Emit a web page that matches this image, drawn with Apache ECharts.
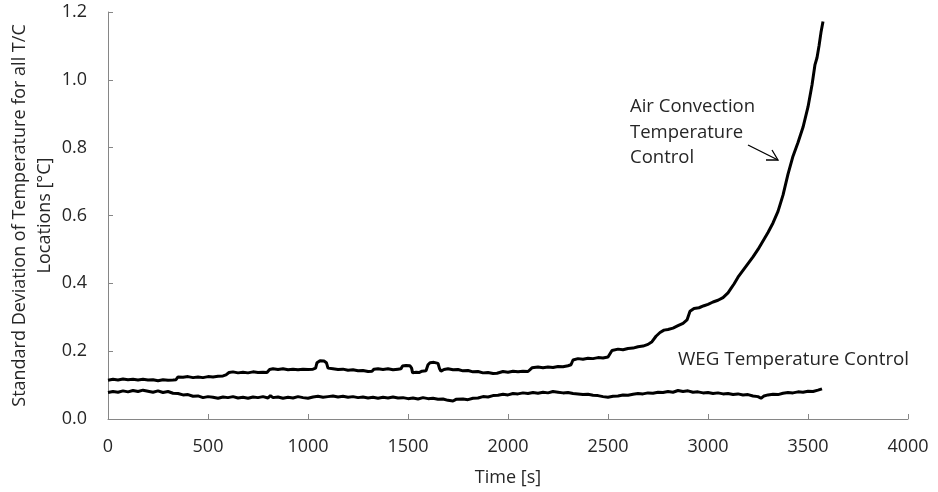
<!DOCTYPE html>
<html>
<head>
<meta charset="utf-8">
<script src="https://cdn.jsdelivr.net/npm/echarts@6/dist/echarts.min.js"></script>
<style>
  html, body { margin: 0; padding: 0; background: #fff; }
  #chart { width: 938px; height: 492px; }
</style>
</head>
<body>
<div id="chart"></div>
<script>
// Standard deviation of thermocouple temperatures over time, two control schemes
const xTicks = [0, 500, 1000, 1500, 2000, 2500, 3000, 3500, 4000];
const yTicks = [0.0, 0.2, 0.4, 0.6, 0.8, 1.0, 1.2];

// Air convection temperature control
const airTime = [0, 25, 50, 75, 100, 125, 150, 175, 200, 225, 250, 275, 300, 325, 340, 350, 375, 400, 425, 450, 475, 500, 525, 550, 575, 590, 605, 625, 650, 675, 700, 725, 750, 775, 795, 808, 825, 850, 875, 900, 925, 950, 975, 1000, 1025, 1038, 1045, 1060, 1080, 1092, 1100, 1110, 1125, 1150, 1175, 1200, 1225, 1250, 1275, 1300, 1320, 1330, 1350, 1375, 1400, 1425, 1450, 1465, 1472, 1490, 1510, 1518, 1523, 1540, 1555, 1570, 1590, 1600, 1610, 1630, 1650, 1658, 1665, 1680, 1700, 1725, 1750, 1775, 1800, 1825, 1850, 1875, 1900, 1925, 1945, 1955, 1975, 2000, 2025, 2050, 2075, 2100, 2110, 2120, 2150, 2175, 2200, 2225, 2250, 2275, 2300, 2315, 2325, 2350, 2375, 2400, 2425, 2450, 2475, 2500, 2510, 2520, 2550, 2575, 2600, 2625, 2650, 2675, 2700, 2720, 2740, 2760, 2780, 2800, 2825, 2850, 2875, 2895, 2910, 2930, 2955, 2980, 3000, 3025, 3050, 3075, 3100, 3115, 3130, 3150, 3175, 3200, 3225, 3250, 3275, 3300, 3325, 3350, 3375, 3400, 3425, 3450, 3475, 3500, 3520, 3535, 3545, 3555, 3565, 3575];
const airStd = [0.114, 0.117, 0.115, 0.118, 0.116, 0.117, 0.115, 0.117, 0.115, 0.116, 0.113, 0.116, 0.114, 0.115, 0.116, 0.124, 0.123, 0.125, 0.122, 0.124, 0.122, 0.125, 0.124, 0.126, 0.127, 0.130, 0.137, 0.139, 0.136, 0.138, 0.136, 0.139, 0.137, 0.138, 0.137, 0.146, 0.148, 0.146, 0.148, 0.145, 0.147, 0.145, 0.147, 0.146, 0.147, 0.150, 0.166, 0.172, 0.171, 0.166, 0.150, 0.146, 0.148, 0.146, 0.147, 0.144, 0.145, 0.142, 0.143, 0.140, 0.141, 0.147, 0.148, 0.146, 0.148, 0.145, 0.147, 0.148, 0.156, 0.158, 0.157, 0.150, 0.136, 0.138, 0.137, 0.141, 0.142, 0.160, 0.166, 0.167, 0.164, 0.148, 0.141, 0.146, 0.148, 0.145, 0.146, 0.142, 0.143, 0.139, 0.140, 0.136, 0.137, 0.134, 0.135, 0.139, 0.140, 0.138, 0.141, 0.139, 0.141, 0.140, 0.143, 0.151, 0.153, 0.151, 0.153, 0.152, 0.155, 0.154, 0.157, 0.160, 0.174, 0.178, 0.176, 0.179, 0.178, 0.181, 0.180, 0.183, 0.188, 0.202, 0.206, 0.204, 0.208, 0.209, 0.213, 0.215, 0.220, 0.228, 0.244, 0.255, 0.262, 0.264, 0.268, 0.275, 0.282, 0.292, 0.318, 0.326, 0.328, 0.334, 0.338, 0.345, 0.350, 0.358, 0.372, 0.385, 0.398, 0.418, 0.438, 0.458, 0.478, 0.500, 0.525, 0.550, 0.578, 0.612, 0.660, 0.722, 0.775, 0.815, 0.860, 0.920, 0.985, 1.045, 1.065, 1.100, 1.140, 1.172];

// WEG temperature control
const wegTime = [0, 25, 50, 75, 100, 125, 150, 175, 200, 225, 250, 275, 300, 325, 350, 375, 400, 425, 450, 475, 500, 525, 550, 575, 600, 625, 650, 675, 700, 725, 750, 775, 800, 812, 825, 850, 875, 900, 925, 950, 975, 1000, 1025, 1050, 1075, 1100, 1125, 1150, 1175, 1200, 1225, 1250, 1275, 1300, 1325, 1350, 1375, 1400, 1425, 1450, 1475, 1500, 1525, 1550, 1575, 1600, 1625, 1650, 1675, 1700, 1725, 1740, 1750, 1775, 1800, 1825, 1850, 1875, 1900, 1925, 1950, 1975, 2000, 2025, 2050, 2075, 2100, 2125, 2150, 2175, 2200, 2225, 2250, 2275, 2300, 2325, 2350, 2375, 2400, 2425, 2450, 2475, 2500, 2525, 2550, 2575, 2600, 2625, 2650, 2675, 2700, 2725, 2750, 2775, 2800, 2825, 2850, 2875, 2900, 2925, 2950, 2975, 3000, 3025, 3050, 3075, 3100, 3125, 3150, 3175, 3200, 3225, 3250, 3265, 3280, 3300, 3325, 3350, 3375, 3400, 3425, 3450, 3475, 3500, 3525, 3550, 3570];
const wegStd = [0.078, 0.081, 0.079, 0.083, 0.080, 0.084, 0.081, 0.085, 0.082, 0.079, 0.083, 0.078, 0.081, 0.076, 0.075, 0.071, 0.072, 0.067, 0.068, 0.063, 0.066, 0.064, 0.061, 0.065, 0.063, 0.066, 0.062, 0.064, 0.061, 0.065, 0.063, 0.066, 0.062, 0.069, 0.063, 0.065, 0.061, 0.064, 0.062, 0.066, 0.063, 0.061, 0.065, 0.067, 0.064, 0.066, 0.068, 0.065, 0.067, 0.064, 0.066, 0.063, 0.065, 0.062, 0.064, 0.061, 0.064, 0.062, 0.065, 0.062, 0.063, 0.060, 0.062, 0.059, 0.063, 0.060, 0.061, 0.058, 0.059, 0.055, 0.053, 0.058, 0.056, 0.059, 0.057, 0.061, 0.062, 0.066, 0.065, 0.069, 0.070, 0.073, 0.071, 0.075, 0.074, 0.077, 0.075, 0.078, 0.076, 0.079, 0.077, 0.081, 0.079, 0.077, 0.078, 0.075, 0.074, 0.072, 0.073, 0.070, 0.069, 0.066, 0.064, 0.067, 0.068, 0.071, 0.070, 0.073, 0.075, 0.074, 0.077, 0.076, 0.079, 0.078, 0.081, 0.079, 0.084, 0.081, 0.083, 0.079, 0.080, 0.077, 0.078, 0.075, 0.077, 0.074, 0.075, 0.072, 0.074, 0.071, 0.072, 0.068, 0.066, 0.061, 0.068, 0.071, 0.073, 0.072, 0.076, 0.078, 0.077, 0.080, 0.079, 0.082, 0.081, 0.085, 0.089];

const FONT = '"Open Sans", sans-serif';
const TXT = '#262626';
const AXIS = '#868686';

const pairs = (xs, ys) => xs.map((x, i) => [x, ys[i]]);

const chart = echarts.init(document.getElementById('chart'), null, { renderer: 'canvas' });
chart.setOption({
  animation: false,
  backgroundColor: '#ffffff',
  grid: { left: 108, right: 30, top: 12, bottom: 73, containLabel: false, outerBoundsMode: 'none' },
  xAxis: {
    type: 'value',
    min: xTicks[0],
    max: xTicks[xTicks.length - 1],
    interval: 500,
    name: 'Time [s]',
    nameLocation: 'middle',
    nameGap: 50,
    nameMoveOverlap: false,
    nameTextStyle: { fontFamily: FONT, fontSize: 18, color: TXT },
    axisLine: { show: true, lineStyle: { color: AXIS, width: 1 } },
    axisTick: { show: true, inside: true, length: 5, lineStyle: { color: AXIS } },
    axisLabel: { fontFamily: FONT, fontSize: 18, color: TXT, margin: 19, formatter: v => String(v) },
    splitLine: { show: false }
  },
  yAxis: {
    type: 'value',
    min: yTicks[0],
    max: yTicks[yTicks.length - 1],
    interval: 0.2,
    name: 'Standard Deviation of Temperature for all T/C\nLocations [°C]',
    nameLocation: 'middle',
    nameRotate: 90,
    nameGap: 51,
    nameMoveOverlap: false,
    nameTextStyle: { fontFamily: FONT, fontSize: 18, color: TXT, lineHeight: 25, align: 'center' },
    axisLine: { show: true, lineStyle: { color: AXIS, width: 1 } },
    axisTick: { show: true, inside: true, length: 5, lineStyle: { color: AXIS } },
    axisLabel: { fontFamily: FONT, fontSize: 18, color: TXT, margin: 21, formatter: v => v.toFixed(1) },
    splitLine: { show: false }
  },
  series: [
    {
      name: 'Air Convection Temperature Control',
      type: 'line',
      data: pairs(airTime, airStd),
      showSymbol: false,
      lineStyle: { color: '#000000', width: 3 }
    },
    {
      name: 'WEG Temperature Control',
      type: 'line',
      data: pairs(wegTime, wegStd),
      showSymbol: false,
      lineStyle: { color: '#000000', width: 3 }
    }
  ],
  graphic: [
    {
      type: 'text', left: 630, top: 94,
      style: { text: 'Air Convection\nTemperature\nControl', font: '18.5px ' + FONT, fill: TXT, lineHeight: 25.5 }
    },
    {
      type: 'text', left: 678, top: 350,
      style: { text: 'WEG Temperature Control', font: '18.8px ' + FONT, fill: TXT }
    },
    // callout arrow pointing at the air-convection curve
    {
      type: 'polyline',
      shape: { points: [[748, 145], [778, 160]] },
      style: { stroke: '#000', lineWidth: 1.3, fill: null }
    },
    {
      type: 'polyline',
      shape: { points: [[766, 160], [778, 160], [772, 150]] },
      style: { stroke: '#000', lineWidth: 1.3, fill: null }
    }
  ]
});
</script>
</body>
</html>
